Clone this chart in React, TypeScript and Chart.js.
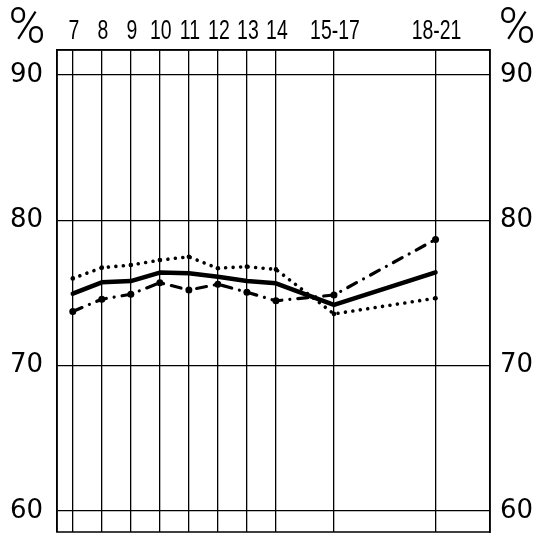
import React, { useEffect, useRef } from 'react';
import { Chart, registerables } from 'chart.js';

Chart.register(...registerables);

const ages = [7, 8, 9, 10, 11, 12, 13, 14, 16, 19.5];
const ageLabels = ['7', '8', '9', '10', '11', '12', '13', '14', '15-17', '18-21'];
const yTicks = [60, 70, 80, 90];
const solidSeries = [74.95, 75.73, 75.82, 76.4, 76.35, 76.12, 75.82, 75.66, 74.18, 76.42];
const dottedSeries = [76.0, 76.74, 76.92, 77.26, 77.49, 76.7, 76.81, 76.62, 73.56, 74.64];
const dashDotSeries = [73.73, 74.57, 74.91, 75.71, 75.2, 75.6, 75.05, 74.46, 74.86, 78.68];

const toPoints = (vals: number[]) => vals.map((v, i) => ({ x: ages[i], y: v }));

// Frame, "%" signs and narrow (condensed) age labels placed by the x scale
const framePlugin = {
  id: 'frameAndPercent',
  afterDraw(chart: any) {
    const { ctx, chartArea } = chart;
    const { left, top, right, bottom } = chartArea;
    ctx.save();
    ctx.strokeStyle = '#000';
    ctx.lineWidth = 1.5;
    ctx.strokeRect(left, top, right - left, bottom - top);
    ctx.fillStyle = '#000';
    ctx.font = '300 50px Roboto, "DejaVu Sans", sans-serif';
    ctx.textAlign = 'center';
    ctx.textBaseline = 'alphabetic';
    ctx.fillText('%', 27, 43);
    ctx.fillText('%', 517, 43);

    const xs = chart.scales.x;
    ctx.font = '27px "Liberation Sans", Arial, sans-serif';
    ctx.textAlign = 'center';
    ctx.textBaseline = 'alphabetic';
    ages.forEach((a, i) => {
      const px = xs.getPixelForValue(a);
      ctx.save();
      ctx.translate(px + 1, 38.5);
      ctx.scale(0.72, 1);
      ctx.fillText(ageLabels[i], 0, 0);
      ctx.restore();
    });
    ctx.restore();
  },
};

export default function App() {
  const ref = useRef<HTMLCanvasElement | null>(null);

  useEffect(() => {
    if (!ref.current) return;
    const yFont = { family: '"DejaVu Sans", sans-serif', size: 26 };
    const chart = new Chart(ref.current, {
      type: 'line',
      data: {
        datasets: [
          {
            label: 'solid',
            data: toPoints(solidSeries),
            borderColor: '#000',
            backgroundColor: '#000',
            borderWidth: 4.5,
            pointRadius: 0,
            tension: 0,
            borderCapStyle: 'round',
            borderJoinStyle: 'round',
          },
          {
            label: 'dotted',
            data: toPoints(dottedSeries),
            borderColor: '#000',
            backgroundColor: '#000',
            borderWidth: 3.6,
            borderDash: [0.01, 7.5],
            borderCapStyle: 'round',
            pointRadius: 2.3,
            pointBorderWidth: 0,
            tension: 0,
          },
          {
            label: 'dashdot',
            data: toPoints(dashDotSeries),
            borderColor: '#000',
            backgroundColor: '#000',
            borderWidth: 3.2,
            borderDash: [10, 8, 0.01, 8],
            borderCapStyle: 'round',
            pointRadius: 3.5,
            pointBorderWidth: 0,
            tension: 0,
          },
        ],
      },
      options: {
        animation: false,
        responsive: false,
        layout: { padding: { left: 0, right: 0, top: 0, bottom: 2 } },
        plugins: { legend: { display: false }, tooltip: { enabled: false } },
        scales: {
          x: {
            type: 'linear',
            position: 'top',
            min: 6.456,
            max: 21.377,
            afterBuildTicks: (s: any) => {
              s.ticks = ages.map((v) => ({ value: v }));
            },
            afterFit: (s: any) => {
              s.height = 50;
              s.paddingLeft = 0;
              s.paddingRight = 0;
            },
            grid: { color: '#000', lineWidth: 1.3, drawTicks: false },
            border: { display: true, color: '#000', width: 1.5 },
            ticks: { display: false, autoSkip: false },
          },
          y: {
            type: 'linear',
            position: 'left',
            min: 58.56,
            max: 91.71,
            afterBuildTicks: (s: any) => {
              s.ticks = yTicks.map((v) => ({ value: v }));
            },
            afterFit: (s: any) => {
              s.width = 57;
              s.paddingTop = 0;
              s.paddingBottom = 0;
            },
            grid: { color: '#000', lineWidth: 1.3, drawTicks: false },
            border: { display: true, color: '#000', width: 1.5 },
            ticks: { color: '#000', font: yFont, padding: 14 },
          },
          y2: {
            type: 'linear',
            position: 'right',
            min: 58.56,
            max: 91.71,
            afterBuildTicks: (s: any) => {
              s.ticks = yTicks.map((v) => ({ value: v }));
            },
            afterFit: (s: any) => {
              s.width = 58;
              s.paddingTop = 0;
              s.paddingBottom = 0;
            },
            grid: { display: false, drawTicks: false },
            border: { display: true, color: '#000', width: 1.5 },
            ticks: { color: '#000', font: yFont, padding: 10 },
          },
        },
      },
      plugins: [framePlugin],
    } as any);
    return () => chart.destroy();
  }, []);

  return (
    <div style={{ position: 'absolute', left: 0, top: 0, width: 548, height: 536, background: '#fff' }}>
      <canvas ref={ref} width={548} height={536} style={{ display: 'block' }} />
    </div>
  );
}
